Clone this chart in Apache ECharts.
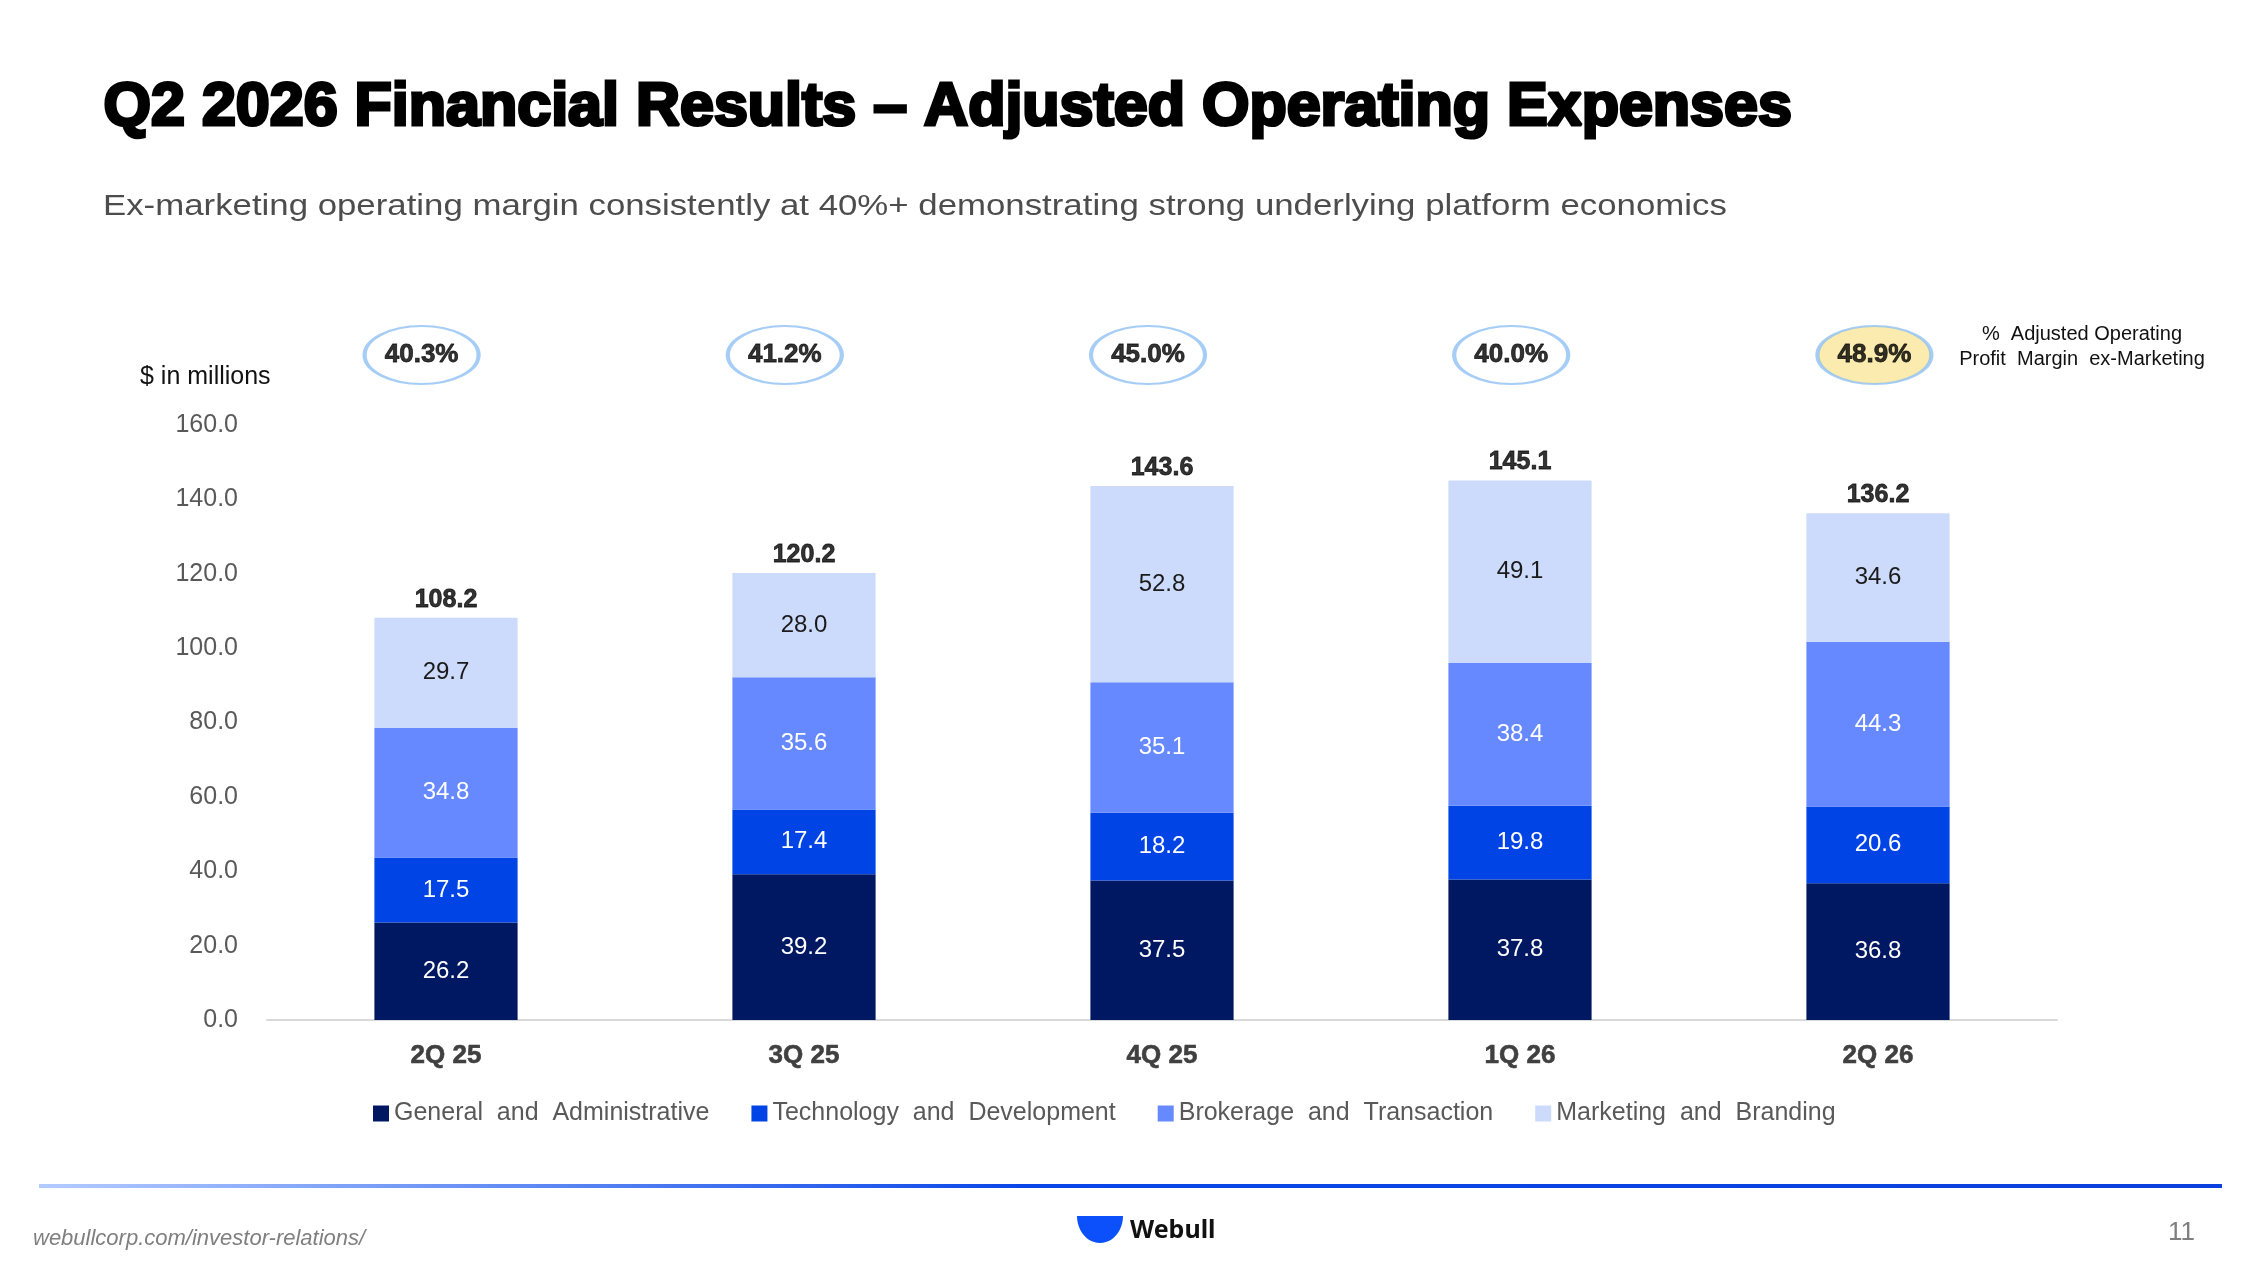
<!DOCTYPE html>
<html>
<head>
<meta charset="utf-8">
<script src="https://cdn.jsdelivr.net/npm/echarts@6/dist/echarts.min.js"></script>
<style>
  html, body { margin: 0; padding: 0; background: #fff; }
  #main { width: 2267px; height: 1275px; }
</style>
</head>
<body>
<div id="main"></div>
<script>
// data
var categories = ['2Q 25', '3Q 25', '4Q 25', '1Q 26', '2Q 26'];
var generalAdmin = [26.2, 39.2, 37.5, 37.8, 36.8];
var techDev = [17.5, 17.4, 18.2, 19.8, 20.6];
var brokerage = [34.8, 35.6, 35.1, 38.4, 44.3];
var marketing = [29.7, 28.0, 52.8, 49.1, 34.6];
var totals = [108.2, 120.2, 143.6, 145.1, 136.2];
var margins = [40.3, 41.2, 45.0, 40.0, 48.9];
var seriesNames = ['General and Administrative', 'Technology and Development', 'Brokerage and Transaction', 'Marketing and Branding'];
var marginRow = '% Adjusted Operating Profit Margin ex-Marketing';

var FONT = '"Liberation Sans", Arial, sans-serif';
var colors = ['#001862', '#0044E6', '#6689FF', '#CCDAFB'];
var labelColors = ['#ffffff', '#ffffff', '#ffffff', '#1a1a1a'];

var myChart = echarts.init(document.getElementById('main'));

function stackSeries(name, values, idx) {
    return {
        name: name,
        type: 'bar',
        stack: 'opex',
        barWidth: '40%',
        data: values,
        itemStyle: { color: colors[idx] },
        label: {
            show: true,
            position: 'inside',
            fontFamily: FONT,
            fontSize: 24,
            color: labelColors[idx],
            formatter: function (p) { return p.value.toFixed(1); }
        }
    };
}

// webull logo crescent outline
function logoPoints() {
    var pts = [];
    for (var i = 0; i <= 24; i++) {
        var t = Math.PI * i / 24;
        pts.push([23 + 23 * Math.cos(t), 27 * Math.sin(t)]);
    }
    for (var j = 24; j >= 0; j--) {
        var u = Math.PI * j / 24;
        pts.push([23 - 23 * Math.cos(u), 12 * Math.sin(u)]);
    }
    return pts;
}

var option = {
    animation: false,
    backgroundColor: '#ffffff',
    grid: [
        { left: 267, right: 210, top: 425, bottom: 255 },
        { left: 240, right: 211, top: 325, height: 60 }
    ],
    xAxis: [
        {
            type: 'category',
            gridIndex: 0,
            data: categories,
            axisTick: { show: false },
            axisLine: { lineStyle: { color: '#D9D9D9', width: 2 } },
            axisLabel: {
                margin: 23,
                fontFamily: FONT,
                fontSize: 26,
                fontWeight: 'bold',
                color: '#404040',
                textBorderColor: '#404040',
                textBorderWidth: 0.6
            }
        },
        {
            type: 'category',
            gridIndex: 1,
            data: categories,
            show: false
        }
    ],
    yAxis: [
        {
            type: 'value',
            gridIndex: 0,
            min: 0,
            max: 160,
            interval: 20,
            splitLine: { show: false },
            axisLine: { show: false },
            axisTick: { show: false },
            axisLabel: {
                margin: 29,
                fontFamily: FONT,
                fontSize: 25,
                color: '#595959',
                formatter: function (v) { return v.toFixed(1); }
            }
        },
        {
            type: 'category',
            gridIndex: 1,
            data: [marginRow],
            show: false
        }
    ],
    legend: {
        data: seriesNames,
        left: 368,
        top: 1096,
        itemWidth: 16,
        itemHeight: 16,
        itemGap: 42,
        icon: 'rect',
        formatter: function (name) { return name.replace(/ /g, '  '); },
        textStyle: { fontFamily: FONT, fontSize: 25, color: '#595959' }
    },
    series: [
        stackSeries(seriesNames[0], generalAdmin, 0),
        stackSeries(seriesNames[1], techDev, 1),
        stackSeries(seriesNames[2], brokerage, 2),
        stackSeries(seriesNames[3], marketing, 3),
        {
            name: 'Total',
            type: 'scatter',
            data: totals,
            symbolSize: 1,
            itemStyle: { color: 'rgba(0,0,0,0)' },
            label: {
                show: true,
                position: 'top',
                distance: 5,
                fontFamily: FONT,
                fontSize: 25,
                fontWeight: 'bold',
                color: '#000',
                textBorderColor: '#000',
                textBorderWidth: 0.8,
                formatter: function (p) { return totals[p.dataIndex].toFixed(1); }
            },
            z: 5
        },
        {
            name: 'Margin',
            type: 'scatter',
            xAxisIndex: 1,
            yAxisIndex: 1,
            symbol: 'circle',
            symbolSize: [114, 58],
            data: margins.map(function (m, i) {
                return {
                    value: [categories[i], marginRow],
                    itemStyle: { color: i === margins.length - 1 ? '#FAE69A' : '#ffffff' }
                };
            }),
            itemStyle: { borderColor: '#8EC0F4', borderWidth: 3 },
            label: {
                show: true,
                position: 'inside',
                fontFamily: FONT,
                fontSize: 26,
                fontWeight: 'bold',
                color: '#000',
                textBorderColor: '#000',
                textBorderWidth: 0.8,
                formatter: function (p) { return margins[p.dataIndex].toFixed(1) + '%'; }
            }
        }
    ],
    graphic: [
        {
            type: 'text', left: 102, top: 76,
            style: {
                text: 'Q2 2026 Financial Results \u2013 Adjusted Operating Expenses',
                font: 'bold 61px ' + FONT,
                fill: '#000', stroke: '#000', lineWidth: 3.2
            }
        },
        {
            type: 'text', left: 103, top: 192, scaleX: 1.16,
            style: {
                text: 'Ex-marketing operating margin consistently at 40%+ demonstrating strong underlying platform economics',
                font: '30px ' + FONT,
                fill: '#4d4d4d'
            }
        },
        {
            type: 'text', left: 140, top: 365,
            style: { text: '$ in millions', font: '25px ' + FONT, fill: '#111' }
        },
        {
            type: 'text', x: 2082, y: 334,
            style: {
                text: '%  Adjusted Operating',
                font: '20px ' + FONT, fill: '#111', align: 'center', verticalAlign: 'middle'
            }
        },
        {
            type: 'text', x: 2082, y: 359,
            style: {
                text: 'Profit  Margin  ex-Marketing',
                font: '20px ' + FONT, fill: '#111', align: 'center', verticalAlign: 'middle'
            }
        },
        {
            type: 'rect', left: 39, top: 1184,
            shape: { width: 2183, height: 4 },
            style: {
                fill: new echarts.graphic.LinearGradient(0, 0, 1, 0, [
                    { offset: 0, color: '#B3CBFF' },
                    { offset: 0.45, color: '#0B47E8' },
                    { offset: 1, color: '#0A40DD' }
                ])
            }
        },
        {
            type: 'text', left: 33, top: 1228,
            style: { text: 'webullcorp.com/investor-relations/', font: 'italic 22px ' + FONT, fill: '#7f7f7f' }
        },
        {
            type: 'polygon', left: 1077, top: 1216,
            shape: { points: logoPoints() },
            style: { fill: '#0B50FA' }
        },
        {
            type: 'text', left: 1130, top: 1218,
            style: { text: 'Webull', font: 'bold 25px "Noto Sans", sans-serif', fill: '#111' }
        },
        {
            type: 'text', left: 2168, top: 1220,
            style: { text: '11', font: '26px ' + FONT, fill: '#7f7f7f' }
        }
    ]
};

myChart.setOption(option);
</script>
</body>
</html>
